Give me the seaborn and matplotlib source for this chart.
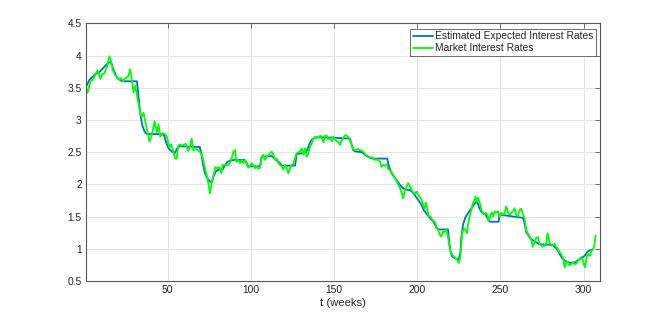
#!/usr/bin/env python3
"""Estimated expected vs market interest rates over time (weekly)."""

import numpy as np
import pandas as pd

import matplotlib
matplotlib.use("Agg")
import matplotlib.pyplot as plt
import seaborn as sns


MARKET_WEEKS = [
    1, 2, 3.5, 5, 6.5, 7.7, 8.5, 9.7, 10.7, 12, 13.5, 15.1, 16, 17.1, 18.5, 20, 21, 22,
    23.2, 24.2, 25.6, 26.6, 27.6, 28.6, 29.6, 30.6, 31.6, 32.6, 33.6, 34.6, 35.6, 36.6,
    38, 39.2, 40.6, 42.2, 43.6, 44.6, 45.6, 47.2, 48.6, 49.6, 51, 52.2, 53.6, 54.6, 55.5,
    56.4, 57.5, 58.5, 60, 61, 62.4, 63.4, 64.5, 65.5, 66.5, 68.4, 69.6, 71, 72, 73, 74.2,
    75.5, 76.5, 77.6, 78.8, 79.8, 81, 82.4, 83, 84.6, 86.4, 87.5, 88.5, 89.6, 90.6, 91.4,
    92.4, 93.6, 94.5, 95.5, 96.5, 97.5, 98.5, 99.5, 100.6, 101.6, 102.6, 103.6, 104.6,
    105.6, 106.6, 107.6, 108.6, 109.6, 110.6, 111.6, 112.6, 113.6, 114.6, 115.6, 116.6,
    117.6, 118.6, 119.6, 120.6, 121.6, 122.6, 123.6, 124.6, 125.6, 126.6, 127.6, 128.6,
    129.6, 130.6, 131.6, 132.6, 133.6, 134.6, 135.6, 136.6, 137.6, 138.8, 139.8, 140.8,
    141.8, 142.8, 143.8, 144.6, 145.8, 146.6, 147.6, 148.8, 149.6, 150.6, 151.6, 152.6,
    153.6, 154.6, 155.6, 156.6, 157.6, 158.6, 159.6, 160.6, 161.6, 162.6, 163.6, 164.6,
    165.6, 166.6, 167.6, 168.6, 169.6, 170.6, 171.6, 172.6, 173.6, 174.6, 175.6, 176.6,
    177.6, 178.6, 179.6, 180.6, 181.6, 182.6, 183.6, 184.6, 185.6, 186.6, 187.6, 188.6,
    189.6, 190.6, 191.6, 192.6, 193.6, 194.6, 195.6, 196.6, 197.6, 198.6, 199.6, 200.6,
    201.6, 202.6, 203.6, 204.5, 205.2, 206, 207, 208, 209, 210, 211, 211.5, 212.5, 213.5,
    214.5, 215.5, 216.5, 217.5, 218.5, 219.2, 220, 221, 222, 223, 224, 225, 225.9, 226.5,
    227, 228, 229, 230, 230.5, 231.5, 232.5, 233.5, 234.5, 235, 236, 236.5, 237, 238,
    238.5, 239.5, 240.5, 241.5, 242.5, 243, 244, 245, 245.5, 246.5, 247.5, 248.5, 249.5,
    250.5, 251.5, 252.5, 253.5, 254.5, 255.5, 256.5, 257.5, 258.5, 259.5, 260.5, 261.5,
    262.5, 263.5, 264.5, 265.5, 266.5, 267.5, 268.5, 269.5, 270.5, 271.5, 272.5, 273.5,
    274.5, 275.5, 276.5, 277.5, 278.3, 279.5, 280.5, 281.5, 282.5, 283.5, 284.5, 285.5,
    286.5, 287.5, 288.7, 289.7, 290.5, 291.5, 292.5, 293.5, 294.5, 295.5, 296.5, 297.5,
    298.5, 299.5, 300.8, 301.8, 302.8, 303.8, 304.8, 305.8, 306.5, 307.2,
]
MARKET_RATES = [
    3.50, 3.42, 3.59, 3.62, 3.69, 3.77, 3.74, 3.64, 3.71, 3.72, 3.82, 3.99, 3.92, 3.77, 3.70, 3.65, 3.62, 3.65,
    3.60, 3.64, 3.66, 3.69, 3.79, 3.60, 3.43, 3.53, 3.38, 3.25, 3.10, 3.05, 3.11, 2.98,
    2.81, 2.66, 2.77, 2.98, 2.81, 2.93, 2.74, 2.79, 2.78, 2.74, 2.58, 2.62, 2.50, 2.40, 2.40,
    2.60, 2.62, 2.60, 2.62, 2.63, 2.52, 2.57, 2.71, 2.53, 2.55, 2.53, 2.50, 2.43, 2.30, 2.20, 2.07,
    1.86, 2.02, 2.13, 2.27, 2.24, 2.27, 2.17, 2.30, 2.30, 2.30, 2.33, 2.40, 2.51, 2.53, 2.35,
    2.38, 2.33, 2.38, 2.33, 2.38, 2.33, 2.26, 2.28, 2.33, 2.29, 2.25, 2.28, 2.24,
    2.26, 2.43, 2.46, 2.38, 2.43, 2.45, 2.48, 2.51, 2.46, 2.38, 2.40, 2.33,
    2.30, 2.28, 2.23, 2.30, 2.25, 2.17, 2.25, 2.30, 2.31, 2.41, 2.48, 2.50,
    2.51, 2.56, 2.46, 2.56, 2.43, 2.48, 2.59, 2.63, 2.71, 2.74, 2.72, 2.73,
    2.76, 2.71, 2.65, 2.76, 2.75, 2.70, 2.72, 2.67, 2.74, 2.70, 2.67, 2.66,
    2.61, 2.68, 2.72, 2.76, 2.76, 2.73, 2.68, 2.62, 2.55, 2.53, 2.54, 2.55,
    2.53, 2.52, 2.51, 2.47, 2.45, 2.43, 2.42, 2.42, 2.40, 2.38, 2.39, 2.37,
    2.36, 2.27, 2.30, 2.29, 2.31, 2.24, 2.22, 2.19, 2.14, 2.10, 2.05, 2.00,
    1.94, 1.88, 1.78, 1.91, 1.96, 2.02, 1.97, 1.92, 1.87, 1.85, 1.89, 1.84,
    1.80, 1.76, 1.68, 1.63, 1.72, 1.62, 1.50, 1.50, 1.45, 1.43, 1.40, 1.32, 1.30, 1.22,
    1.19, 1.27, 1.26, 1.30, 1.19, 1.06, 0.96, 0.91, 0.88, 0.86, 0.83, 0.78, 0.86, 1.07,
    1.24, 1.32, 1.29, 1.24, 1.37, 1.50, 1.60, 1.71, 1.76, 1.81, 1.73, 1.79, 1.76, 1.68,
    1.61, 1.56, 1.53, 1.56, 1.50, 1.43, 1.53, 1.56, 1.50, 1.58, 1.56, 1.58, 1.50,
    1.56, 1.53, 1.55, 1.66, 1.57, 1.53, 1.56, 1.58, 1.63, 1.53, 1.50, 1.60,
    1.62, 1.55, 1.47, 1.29, 1.24, 1.19, 1.14, 1.03, 1.10, 1.17, 1.18, 1.08,
    1.05, 1.03, 1.05, 1.08, 1.24, 1.10, 1.05, 1.05, 1.08, 1.03, 1.00, 0.95,
    0.92, 0.87, 0.71, 0.81, 0.79, 0.74, 0.76, 0.79, 0.76, 0.77, 0.80, 0.84,
    0.87, 0.82, 0.71, 0.87, 0.92, 0.89, 0.97, 1.00, 1.05, 1.21,
]

EXPECTED_WEEKS = [
    1, 3, 5, 7, 8.5, 10.8, 13, 14.8, 16, 17.6, 19, 20, 22.6, 31.6, 32.6, 33.6, 34.8, 36,
    37, 38, 46.7, 48, 49, 50.6, 52.6, 54.6, 56, 57.4, 69.4, 70.4, 71.4, 72.5, 74, 75.6,
    76.6, 77.6, 79, 81, 83, 84.6, 86, 88, 90, 96.4, 97.5, 98.4, 105.6, 106.6, 112.6, 114,
    116, 117.6, 118.6, 126.6, 127.6, 132.6, 133.6, 134.6, 135.6, 137, 139, 145, 152,
    159.6, 160.6, 161.6, 163, 167, 169, 171, 173, 182, 183, 184.5, 186.5, 188.6, 190.6,
    192.6, 196, 198, 200, 202.6, 204, 205.5, 207.5, 209.5, 211.5, 212.5, 218.5, 219.2,
    220, 221, 223, 225, 226, 226.5, 227.5, 229, 231, 233, 234.5, 235.5, 236.5, 237.5,
    239, 241, 243.5, 249, 249.5, 263.5, 264.5, 265.5, 267.5, 269.5, 271.5, 273.5, 281.5,
    283, 284.5, 286, 287.5, 289.5, 292, 295, 297.5, 299, 300.5, 301.5, 302.5, 304, 305.5,
]
EXPECTED_RATES = [
    3.51, 3.62, 3.67, 3.72, 3.73, 3.79, 3.85, 3.89, 3.90, 3.77, 3.69, 3.65, 3.60, 3.60, 3.36, 3.10, 2.92, 2.83,
    2.79, 2.78, 2.78, 2.76, 2.66, 2.56, 2.51, 2.49, 2.57, 2.59, 2.58, 2.46, 2.30, 2.17, 2.09, 2.04,
    2.04, 2.12, 2.20, 2.23, 2.23, 2.30, 2.35, 2.37, 2.38, 2.38, 2.33, 2.28, 2.28, 2.43, 2.44, 2.41,
    2.36, 2.33, 2.29, 2.29, 2.47, 2.49, 2.52, 2.58, 2.65, 2.70, 2.73, 2.73, 2.72,
    2.71, 2.62, 2.53, 2.51, 2.50, 2.45, 2.42, 2.40, 2.40, 2.28, 2.18, 2.10, 2.03, 1.96,
    1.92, 1.91, 1.85, 1.78, 1.68, 1.60, 1.55, 1.48, 1.43, 1.34, 1.30, 1.30, 1.12,
    0.96, 0.88, 0.85, 0.83, 0.96, 1.16, 1.37, 1.49, 1.57, 1.64, 1.70, 1.73, 1.70, 1.62,
    1.56, 1.53, 1.42, 1.42, 1.53, 1.48, 1.40, 1.26, 1.18, 1.13, 1.10, 1.07, 1.06,
    1.02, 0.98, 0.90, 0.84, 0.80, 0.78, 0.79, 0.84, 0.86, 0.89, 0.92, 0.96, 0.98, 0.99,
]

LEGEND_LABELS = ["Estimated Expected Interest Rates", "Market Interest Rates"]
X_TICKS = [50, 100, 150, 200, 250, 300]
Y_TICKS = [0.5, 1, 1.5, 2, 2.5, 3, 3.5, 4, 4.5]


def main() -> None:
    sns.set_theme(style="whitegrid")
    plt.rcParams.update({
        "font.family": ["Liberation Sans", "DejaVu Sans"],
        "figure.facecolor": "white",
        "axes.facecolor": "white",
        "axes.edgecolor": "#555555",
        "axes.linewidth": 0.8,
        "grid.color": "#e5e5e5",
        "grid.linewidth": 0.7,
        "xtick.direction": "in",
        "ytick.direction": "in",
        "xtick.color": "#555555",
        "ytick.color": "#555555",
        "xtick.major.size": 3.5,
        "ytick.major.size": 3.5,
        "xtick.major.width": 0.6,
        "ytick.major.width": 0.6,
    })

    expected = pd.DataFrame({"week": EXPECTED_WEEKS, "rate": EXPECTED_RATES})
    market = pd.DataFrame({"week": MARKET_WEEKS, "rate": MARKET_RATES})

    fig = plt.figure(figsize=(6.64, 3.16), dpi=100)
    ax = fig.add_axes([0.1295, 0.1108, 0.7745, 0.8155])

    sns.lineplot(data=expected, x="week", y="rate", ax=ax, color="#0072BD",
                 linewidth=1.3, estimator=None, label=LEGEND_LABELS[0])
    sns.lineplot(data=market, x="week", y="rate", ax=ax, color="#00FF00",
                 linewidth=1.3, estimator=None, label=LEGEND_LABELS[1])

    ax.set_xlim(1, 310)
    ax.set_ylim(0.5, 4.5)
    ax.set_xticks(X_TICKS)
    ax.set_yticks(Y_TICKS)
    ax.set_yticklabels([f"{v:g}" for v in Y_TICKS])
    ax.tick_params(labelsize=7.4, labelcolor="#262626", top=True, right=True, pad=3)
    ax.set_xlabel("t (weeks)", fontsize=8.1, color="#262626", labelpad=2)
    ax.set_ylabel("")
    for side in ["top", "right", "bottom", "left"]:
        ax.spines[side].set_visible(True)
        ax.spines[side].set_color("#555555")

    leg = ax.legend(loc="upper right", bbox_to_anchor=(0.991, 0.979), borderaxespad=0,
                    fontsize=7.4, handlelength=2.0, handletextpad=0.15,
                    labelspacing=0.2, borderpad=0.25, fancybox=False, framealpha=1)
    leg.get_frame().set_edgecolor("#555555")
    leg.get_frame().set_linewidth(0.6)

    fig.savefig("out.png", dpi=100)
    plt.close(fig)


if __name__ == "__main__":
    main()
